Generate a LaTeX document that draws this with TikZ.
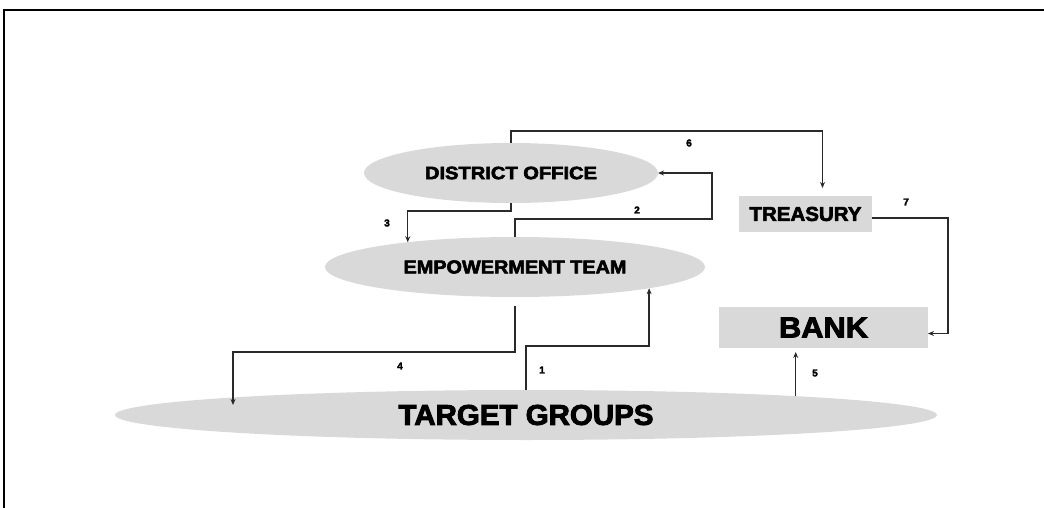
\documentclass[tikz,border=0pt]{standalone}
\usepackage{fontspec}
\setmainfont{Liberation Sans}
\newfontfamily\heavyfont{Liberation Sans}[UprightFont={* Bold}, FakeBold=3]
\usepackage{graphicx}
\usetikzlibrary{shapes.geometric,arrows.meta}

\definecolor{boxgray}{HTML}{D9D9D9}
\definecolor{linegray}{HTML}{2A2A2A}

% heavy caption squeezed to a given width and cap height (in pt)
\newcommand{\capbox}[3]{\resizebox{#1pt}{#2pt}{\heavyfont #3}}

\begin{document}
\begin{tikzpicture}[x=1pt, y=-1pt,
  blob/.style={ellipse, fill=boxgray, draw=none, inner sep=0pt, outer sep=0pt},
  plate/.style={rectangle, fill=boxgray, draw=none, inner sep=0pt, outer sep=0pt},
  conn/.style={draw=linegray, line width=1.4pt, -{Stealth[length=6pt,width=5pt]}},
  num/.style={font=\heavyfont\fontsize{10}{10}\selectfont, inner sep=0pt}]

\useasboundingbox (0,0) rectangle (1044,508);

% frame
\draw[line width=1.6pt] (4,508) -- (4,10) -- (1044,10);

% boxes
\node[blob, minimum width=294pt, minimum height=60pt] (do) at (511,173)
  {\capbox{172}{12.5}{DISTRICT OFFICE}};
\node[blob, minimum width=380pt, minimum height=60pt] (et) at (515,267)
  {\capbox{223}{13}{EMPOWERMENT TEAM}};
\node[blob, minimum width=822pt, minimum height=50pt] (tg) at (526,415)
  {\capbox{255}{20}{TARGET GROUPS}};
\node[plate, minimum width=133pt, minimum height=36pt] (tr) at (805.5,214)
  {\capbox{112}{14}{TREASURY}};
\node[plate, minimum width=209pt, minimum height=41pt] (bk) at (823.5,327.5)
  {\capbox{89}{20}{BANK}};

\coordinate (t4) at (233,405);

% flows
\draw[conn] (tg.north) -- ++(0,-44) -| (et.351);
\draw[conn] (et.north) |- (712,219) |- (do.east);
\draw[conn] (do.south) -- ++(0,8) -| (et.167);
\draw[conn] ([yshift=-9pt]et.south) |- (233,352) -- (t4);
\draw[conn, shorten >=4pt] (tg.4) -- (tg.4 |- bk.south);
\draw[conn, shorten >=8pt] (do.north) -- (do.north |- 0,131) -| ([xshift=17pt]tr.north);
\draw[conn] ([yshift=-4pt]tr.east) -- ++(76,0) |- ([yshift=-6pt]bk.east);

% step numbers
\node[num] (l1) at (542,370) {1};
\node[num] (l2) at (637,210) {2};
\node[num] (l3) at (387,223) {3};
\node[num] (l4) at (400,366) {4};
\node[num] (l5) at (815,373) {5};
\node[num] (l6) at (689,143) {6};
\node[num] (l7) at (906,202) {7};
\end{tikzpicture}
\end{document}
